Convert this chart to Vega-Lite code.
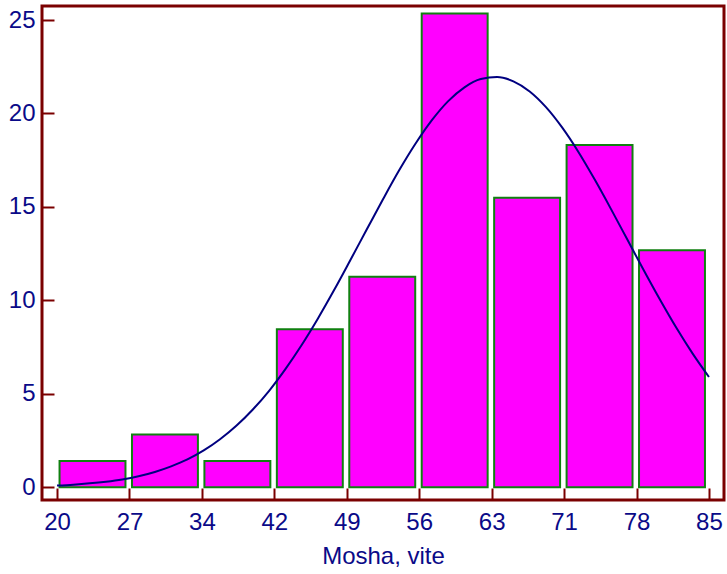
{
  "$schema": "https://vega.github.io/schema/vega-lite/v6.json",
  "width": 682,
  "height": 494,
  "autosize": {"type": "none"},
  "padding": {"left": 42, "top": 6, "right": 3, "bottom": 74},
  "background": "white",
  "config": {
    "view": {"stroke": "#7a0000", "strokeWidth": 3},
    "axis": {
      "domain": false,
      "grid": false,
      "labelFont": "Liberation Sans",
      "labelFontSize": 24,
      "labelColor": "#0a0a88",
      "titleFont": "Liberation Sans",
      "titleFontSize": 24,
      "titleFontWeight": "normal",
      "titleColor": "#0a0a88",
      "tickColor": "#7a0000",
      "tickWidth": 2,
      "tickSize": -12
    }
  },
  "datasets": {
    "bins": [
      {"lo": 20.000, "hi": 27.222, "pct": 1.41},
      {"lo": 27.222, "hi": 34.444, "pct": 2.82},
      {"lo": 34.444, "hi": 41.667, "pct": 1.41},
      {"lo": 41.667, "hi": 48.889, "pct": 8.45},
      {"lo": 48.889, "hi": 56.111, "pct": 11.27},
      {"lo": 56.111, "hi": 63.333, "pct": 25.35},
      {"lo": 63.333, "hi": 70.556, "pct": 15.49},
      {"lo": 70.556, "hi": 77.778, "pct": 18.31},
      {"lo": 77.778, "hi": 85.000, "pct": 12.68}
    ],
    "curve": [
      {"age": 20.0, "dens": 0.09}, {"age": 21.625, "dens": 0.14},
      {"age": 23.25, "dens": 0.21}, {"age": 24.875, "dens": 0.30},
      {"age": 26.5, "dens": 0.42}, {"age": 28.125, "dens": 0.59},
      {"age": 29.75, "dens": 0.82}, {"age": 31.375, "dens": 1.12},
      {"age": 33.0, "dens": 1.49}, {"age": 34.625, "dens": 1.97},
      {"age": 36.25, "dens": 2.57}, {"age": 37.875, "dens": 3.29},
      {"age": 39.5, "dens": 4.15}, {"age": 41.125, "dens": 5.15},
      {"age": 42.75, "dens": 6.31}, {"age": 44.375, "dens": 7.60},
      {"age": 46.0, "dens": 9.02}, {"age": 47.625, "dens": 10.55},
      {"age": 49.25, "dens": 12.16}, {"age": 50.875, "dens": 13.79},
      {"age": 52.5, "dens": 15.41}, {"age": 54.125, "dens": 16.97},
      {"age": 55.75, "dens": 18.39}, {"age": 57.375, "dens": 19.64},
      {"age": 59.0, "dens": 20.66}, {"age": 60.625, "dens": 21.40},
      {"age": 62.25, "dens": 21.84}, {"age": 63.875, "dens": 21.95},
      {"age": 65.5, "dens": 21.72}, {"age": 67.125, "dens": 21.18},
      {"age": 68.75, "dens": 20.34}, {"age": 70.375, "dens": 19.24},
      {"age": 72.0, "dens": 17.93}, {"age": 73.625, "dens": 16.45},
      {"age": 75.25, "dens": 14.87}, {"age": 76.875, "dens": 13.24},
      {"age": 78.5, "dens": 11.61}, {"age": 80.125, "dens": 10.03},
      {"age": 81.75, "dens": 8.53}, {"age": 83.375, "dens": 7.15},
      {"age": 85.0, "dens": 5.90}
    ]
  },
  "layer": [
    {
      "data": {"name": "bins"},
      "mark": {"type": "rect", "fill": "#ff00ff", "stroke": "#108010", "strokeWidth": 2, "xOffset": 2.5, "x2Offset": -4},
      "encoding": {
        "x": {
          "field": "lo", "type": "quantitative",
          "scale": {"domain": [18.5, 86.5], "nice": false, "zero": false},
          "axis": {
            "title": "Mosha, vite",
            "values": [20, 27.222, 34.444, 41.667, 48.889, 56.111, 63.333, 70.556, 77.778, 85],
            "labelExpr": "format(datum.value, '.0f')",
            "labelPadding": 22,
            "titlePadding": 10
          }
        },
        "x2": {"field": "hi"},
        "y": {
          "field": "pct", "type": "quantitative",
          "scale": {"domain": [-0.68, 25.75], "nice": false, "zero": false},
          "axis": {"title": null, "values": [0, 5, 10, 15, 20, 25], "labelPadding": 19}
        },
        "y2": {"datum": 0}
      }
    },
    {
      "data": {"name": "curve"},
      "mark": {"type": "line", "color": "#000080", "strokeWidth": 2, "interpolate": "monotone"},
      "encoding": {
        "x": {"field": "age", "type": "quantitative"},
        "y": {"field": "dens", "type": "quantitative"}
      }
    }
  ]
}
